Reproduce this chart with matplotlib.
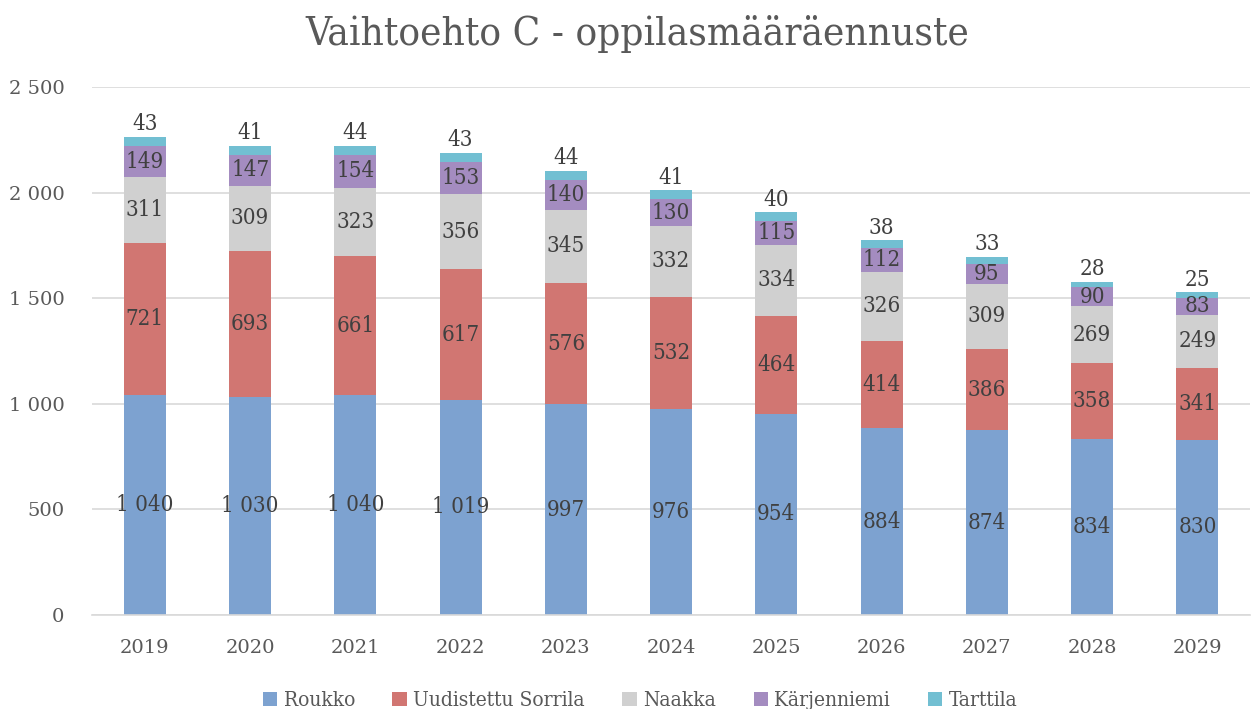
import matplotlib
matplotlib.use("Agg")
import matplotlib.pyplot as plt
import numpy as np

years = ["2019", "2020", "2021", "2022", "2023", "2024", "2025", "2026", "2027", "2028", "2029"]
roukko = [1040, 1030, 1040, 1019, 997, 976, 954, 884, 874, 834, 830]
sorrila = [721, 693, 661, 617, 576, 532, 464, 414, 386, 358, 341]
naakka = [311, 309, 323, 356, 345, 332, 334, 326, 309, 269, 249]
karjenniemi = [149, 147, 154, 153, 140, 130, 115, 112, 95, 90, 83]
tarttila = [43, 41, 44, 43, 44, 41, 40, 38, 33, 28, 25]

series_names = ["Roukko", "Uudistettu Sorrila", "Naakka", "Kärjenniemi", "Tarttila"]
series = [roukko, sorrila, naakka, karjenniemi, tarttila]
colors = ["#7da2d0", "#d17672", "#d0d0d0", "#a48cc0", "#72bfd2"]

plt.rcParams['font.family'] = ['DejaVu Serif']
plt.rcParams['font.stretch'] = 'condensed'
txt = "#404040"

fig = plt.figure(figsize=(12.55, 7.09), dpi=100)
ax = fig.add_axes([0.0735, 0.1326, 0.9225, 0.7447])

x = np.arange(len(years))
bottom = np.zeros(len(years))

def fmt(v):
    s = f"{v:,}".replace(",", " ")
    return s

for name, vals, c in zip(series_names, series, colors):
    vals = np.array(vals)
    ax.bar(x, vals, 0.4, bottom=bottom, color=c, label=name, zorder=2)
    for xi, b, v in zip(x, bottom, vals):
        if name == "Tarttila":
            ax.text(xi, b + v + 8, fmt(v), ha="center", va="bottom", fontsize=16, color=txt)
        else:
            ax.text(xi, b + v / 2, fmt(v), ha="center", va="center", fontsize=16, color=txt)
    bottom += vals

ax.set_xlim(-0.5, len(years) - 0.5)
ax.set_ylim(0, 2500)
ax.set_yticks([0, 500, 1000, 1500, 2000, 2500])
ax.set_yticklabels([fmt(v) for v in [0, 500, 1000, 1500, 2000, 2500]])
ax.set_xticks(x)
ax.set_xticklabels(years)
ax.tick_params(axis="both", length=0, labelsize=14, colors="#595959")
for lab in ax.get_xticklabels() + ax.get_yticklabels():
    lab.set_fontstretch("normal")
ax.tick_params(axis="y", pad=20)
ax.tick_params(axis="x", pad=17)
ax.yaxis.grid(True, color="#d9d9d9", linewidth=1.2, zorder=0)
ax.set_axisbelow(True)
for s in ["top", "right", "left"]:
    ax.spines[s].set_visible(False)
ax.spines["bottom"].set_color("#d9d9d9")
ax.spines["bottom"].set_linewidth(1.2)

fig.text(0.508, 0.952, "Vaihtoehto C - oppilasmääräennuste", ha="center", va="center",
         fontsize=29, color="#595959")

fig.legend(loc="lower center", bbox_to_anchor=(0.51, -0.028), ncol=5, frameon=False,
           fontsize=15, handlelength=0.7, handleheight=0.7, handletextpad=0.3,
           columnspacing=1.8, labelcolor="#595959")

fig.savefig("out.png", dpi=100)
